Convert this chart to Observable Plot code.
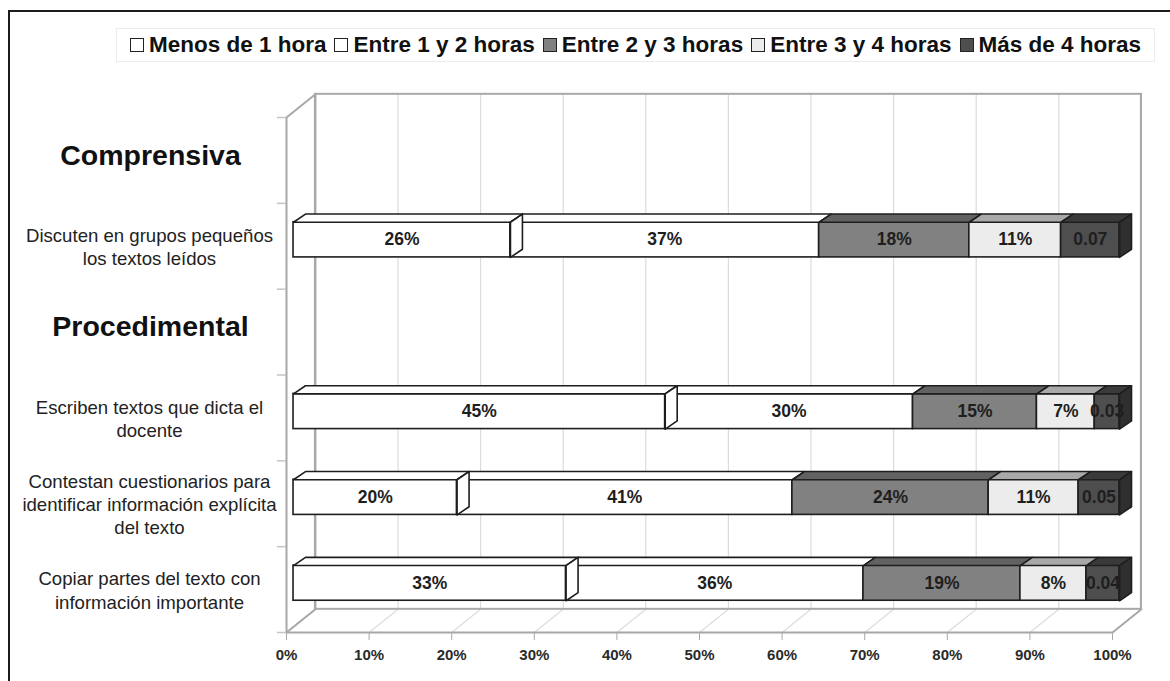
<!DOCTYPE html>
<html>
<head>
<meta charset="utf-8">
<script src="https://cdn.jsdelivr.net/npm/d3@7"></script>
<script src="https://cdn.jsdelivr.net/npm/@observablehq/plot@0.6"></script>
<style>
  body { margin: 0; background: #fff; }
  #wrap { position: relative; width: 1170px; height: 681px; overflow: hidden; background: #fff;
          font-family: "Liberation Sans", Arial, sans-serif; }
  #frame { position: absolute; left: 8px; top: 10px; width: 1300px; height: 800px; z-index: 2;
           pointer-events: none; border-top: 2px solid #1c1c1c; border-left: 2px solid #1c1c1c; }
  #legend { position: absolute; left: 116px; top: 28px; width: 1037px; height: 32px;
            border: 1px solid #ececec; display: flex; align-items: center; justify-content: center;
            gap: 8px; font-weight: bold; font-size: 22.5px; color: #111; white-space: nowrap; }
  #legend .item { display: flex; align-items: center; gap: 5px; }
  #legend .sw { width: 12px; height: 12px; border: 1.6px solid #222; }
  #chart { position: absolute; left: 0; top: 70px; }
</style>
</head>
<body>
<div id="wrap">
  <div id="frame"></div>
  <div id="legend"></div>
  <div id="chart"></div>
</div>
<script>
// Series (hours per week) and their values per activity
const series = ["Menos de 1 hora", "Entre 1 y 2 horas", "Entre 2 y 3 horas", "Entre 3 y 4 horas", "Más de 4 horas"];
const categories = [
  "Discuten en grupos pequeños\nlos textos leídos",
  "Escriben textos que dicta el\ndocente",
  "Contestan cuestionarios para\nidentificar información explícita\ndel texto",
  "Copiar partes del texto con\ninformación importante"
];
const categoryGroup = ["Comprensiva", "Procedimental", "Procedimental", "Procedimental"];
const menos1 = [26, 45, 20, 33];      // percent
const entre1y2 = [37, 30, 41, 36];    // percent
const entre2y3 = [18, 15, 24, 19];    // percent
const entre3y4 = [11, 7, 11, 8];      // percent
const mas4 = [0.07, 0.03, 0.05, 0.04]; // fraction
const xTicks = [0, 10, 20, 30, 40, 50, 60, 70, 80, 90, 100];

// Face colours for each series
const frontColor = ["#ffffff", "#ffffff", "#818181", "#ececec", "#4e4e4e"];
const topColor = ["#ffffff", "#ffffff", "#626262", "#a9a9a9", "#3a3a3a"];
const sideColor = ["#ffffff", "#ffffff", "#5a5a5a", "#bdbdbd", "#2f2f2f"];

// Rows: each group header followed by its activities
const rows = [];
const catRow = [];
categoryGroup.forEach((g, i) => {
  if (!rows.some(r => r.header && r.label === g)) rows.push({label: g, header: true});
  catRow[i] = rows.length;
  rows.push({label: categories[i], header: false});
});
rows.forEach((r, i) => r.i = i);
const nRows = rows.length;

// 3D geometry in scale units (x: percent, y: rows)
const wallDx = 3.5, wallDy = -0.27;   // back wall depth
const barDx = 0.85, barDy = -0.075;   // bar plane depth
const depthDx = 1.45, depthDy = -0.095; // bar thickness
const halfH = 0.205;

// Stack each activity to 100%
const seriesValues = [menos1, entre1y2, entre2y3, entre3y4, mas4];
const segments = [];
categories.forEach((c, i) => {
  const pct = seriesValues.map((vals, s) => s === 4 ? vals[i] * 100 : vals[i]);
  const total = d3.sum(pct);
  let acc = 0;
  pct.forEach((p, s) => {
    const x1 = acc / total * 100;
    acc += p;
    const x2 = acc / total * 100;
    const yc = catRow[i] + 0.5 + barDy;
    segments.push({
      id: i * 10 + s, s, x1: x1 + barDx, x2: x2 + barDx, yt: yc - halfH, yb: yc + halfH, yc,
      label: s === 4 ? String(seriesValues[s][i]) : seriesValues[s][i] + "%"
    });
  });
});

const topFaces = segments.flatMap(d => [
  {id: d.id, s: d.s, x: d.x1, y: d.yt},
  {id: d.id, s: d.s, x: d.x2, y: d.yt},
  {id: d.id, s: d.s, x: d.x2 + depthDx, y: d.yt + depthDy},
  {id: d.id, s: d.s, x: d.x1 + depthDx, y: d.yt + depthDy},
  {id: d.id, s: d.s, x: d.x1, y: d.yt}
]);
const sideFaces = segments.filter(d => d.s === 0 || d.s === series.length - 1).flatMap(d => [
  {id: d.id, s: d.s, x: d.x2, y: d.yb},
  {id: d.id, s: d.s, x: d.x2, y: d.yt},
  {id: d.id, s: d.s, x: d.x2 + depthDx, y: d.yt + depthDy},
  {id: d.id, s: d.s, x: d.x2 + depthDx, y: d.yb + depthDy},
  {id: d.id, s: d.s, x: d.x2, y: d.yb}
]);

const xMax = 100;
const leftWall = [
  {x: 0, y: 0}, {x: wallDx, y: wallDy}, {x: wallDx, y: nRows + wallDy}, {x: 0, y: nRows}, {x: 0, y: 0}
];
const floorEdge = [
  {x: 0, y: nRows}, {x: xMax, y: nRows}, {x: xMax + wallDx, y: nRows + wallDy}
];
const wallGray = "#a8a8a8", gridGray = "#dcdcdc", edge = "#1e1e1e";

const chart = Plot.plot({
  width: 1170,
  height: 611,
  marginLeft: 286,
  marginRight: 58,
  marginTop: 47,
  marginBottom: 49,
  style: {fontFamily: "'Liberation Sans', Arial, sans-serif", background: "#fff", overflow: "visible"},
  x: {domain: [0, xMax]},
  y: {domain: [0, nRows], range: [47, 562], axis: null},
  color: {type: "identity"},
  marks: [
    // back wall grid and outline
    Plot.ruleX(xTicks, {x: t => t + wallDx, y1: wallDy, y2: nRows + wallDy, stroke: gridGray, strokeWidth: 1.2}),
    Plot.link(xTicks, {x1: t => t, y1: nRows, x2: t => t + wallDx, y2: nRows + wallDy, stroke: gridGray, strokeWidth: 1.2}),
    Plot.rect([xMax], {x1: wallDx, x2: d => d + wallDx, y1: wallDy, y2: nRows + wallDy, fill: "none", stroke: wallGray, strokeWidth: 2}),
    Plot.line(leftWall, {x: "x", y: "y", stroke: wallGray, strokeWidth: 2}),
    Plot.line(floorEdge, {x: "x", y: "y", stroke: wallGray, strokeWidth: 2}),
    Plot.ruleY(d3.range(0, nRows + 1), {x1: -1.1, x2: 0, stroke: "#c4c4c4", strokeWidth: 1.5}),
    // x axis along the front of the floor
    Plot.axisX(xTicks, {
      anchor: "bottom", tickSize: 8, tickPadding: 9, stroke: wallGray,
      fill: "#2a2a2a", fontWeight: "bold", fontSize: 15,
      tickFormat: d => d + "%"
    }),
    // bars: front faces, top faces, visible side faces
    Plot.rect(segments, {x1: "x1", x2: "x2", y1: "yt", y2: "yb", fill: d => frontColor[d.s], stroke: edge, strokeWidth: 1.6}),
    Plot.line(topFaces, {x: "x", y: "y", z: "id", fill: d => topColor[d.s], stroke: edge, strokeWidth: 1.6, strokeLinejoin: "round"}),
    Plot.line(sideFaces, {x: "x", y: "y", z: "id", fill: d => sideColor[d.s], stroke: edge, strokeWidth: 1.6, strokeLinejoin: "round"}),
    // value labels
    Plot.text(segments, {x: d => (d.x1 + d.x2) / 2, y: "yc", text: "label", fill: "#1e1e1e", fontWeight: "bold", fontSize: 17.5}),
    // row labels
    Plot.text(rows.filter(r => r.header), {y: r => r.i + 0.5, text: "label", frameAnchor: "left", dx: -136, dy: -5,
      textAnchor: "middle", fontSize: 28.5, fontWeight: "bold", fill: "#111"}),
    Plot.text(rows.filter(r => !r.header), {y: r => r.i + 0.5, text: "label", frameAnchor: "left", dx: -137,
      textAnchor: "middle", fontSize: 18.6, lineHeight: 1.25, fill: "#222"})
  ]
});
document.getElementById("chart").appendChild(chart);

// legend
const legend = document.getElementById("legend");
series.forEach((s, i) => {
  const item = document.createElement("span");
  item.className = "item";
  const sw = document.createElement("span");
  sw.className = "sw";
  sw.style.background = frontColor[i];
  item.appendChild(sw);
  item.appendChild(document.createTextNode(s));
  legend.appendChild(item);
});
</script>
</body>
</html>
